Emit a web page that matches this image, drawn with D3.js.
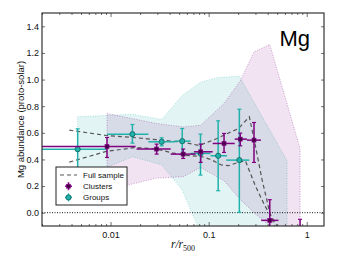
<!DOCTYPE html>
<html>
<head>
<meta charset="utf-8">
<script src="https://cdn.jsdelivr.net/npm/d3@7"></script>
<style>
  body { margin: 0; background: #fff; }
  svg { font-family: "Liberation Sans", Arial, sans-serif; }
</style>
</head>
<body>
<svg id="chart"></svg>
<script>
// cluster profile (purple)
const clusterR   = [0.0092, 0.0295, 0.055, 0.083, 0.1435, 0.21, 0.29, 0.42, 0.855];
const clusterRLo = [0.0012, 0.0184, 0.041, 0.0708, 0.110, 0.1845, 0.246, 0.343, 0.70];
const clusterRHi = [0.018, 0.041, 0.0735, 0.110, 0.1845, 0.246, 0.341, 0.515, 1.0];
const clusterMg  = [0.497, 0.478, 0.44, 0.4575, 0.52, 0.5525, 0.545, -0.0575, -0.2];
const clusterLo  = [0.415, 0.44, 0.4075, 0.378, 0.4525, 0.5025, 0.3775, -0.2, -0.35];
const clusterHi  = [0.565, 0.515, 0.478, 0.515, 0.595, 0.5975, 0.6775, 0.0975, -0.05];
const clusterBandUp = [0.745, 0.67, 0.644, 0.657, 0.82, 0.99, 1.207, 1.263, 0.483];
const clusterBandLo = [0.17, 0.26, 0.27, 0.34, 0.24, 0.10, 0.0, -0.1, -0.6];

// group profile (teal)
const groupR   = [0.00462, 0.0167, 0.0332, 0.0538, 0.0826, 0.125, 0.2056, 0.63];
const groupRLo = [0.0012, 0.0092, 0.0243, 0.0454, 0.0655, 0.1045, 0.151, 0.5];
const groupRHi = [0.0092, 0.0243, 0.0454, 0.0655, 0.1045, 0.154, 0.26, 0.8];
const groupMg  = [0.477, 0.59, 0.5325, 0.5375, 0.445, 0.4275, 0.395, -0.5];
const groupLo  = [0.32, 0.5225, 0.5025, 0.4425, 0.2825, 0.165, 0.0025, -0.9];
const groupHi  = [0.63, 0.6625, 0.5625, 0.6325, 0.59, 0.69, 0.7775, -0.2];
const groupBandUp = [0.72, 0.74, 0.70, 0.88, 0.98, 1.015, 1.025, 0.39];
const groupBandLo = [0.25, 0.42, 0.36, 0.17, -0.15, -0.4, -0.5, -0.5];

// full sample envelope (dashed)
const fullUpR = [0.0038, 0.009, 0.017, 0.033, 0.054, 0.08, 0.12, 0.155, 0.20, 0.26, 0.30, 0.35, 0.42, 0.5];
const fullUp  = [0.62, 0.58, 0.565, 0.545, 0.53, 0.505, 0.555, 0.595, 0.63, 0.72, 0.50, 0.25, 0.0, -0.15];
const fullLoR = [0.0038, 0.009, 0.018, 0.029, 0.054, 0.083, 0.105, 0.135, 0.16, 0.2, 0.237, 0.30, 0.375, 0.55];
const fullLo  = [0.38, 0.46, 0.49, 0.478, 0.433, 0.423, 0.40, 0.358, 0.353, 0.378, 0.39, 0.20, 0.05, -0.15];

const xTicks = [0.01, 0.1, 1];
const xTickLabels = ["0.01", "0.1", "1"];
const yTicks = [0, 0.2, 0.4, 0.6, 0.8, 1.0, 1.2, 1.4];

const width = 341, height = 257;
const margin = { left: 42, right: 17, top: 13, bottom: 31 };

const purple = "#800080", purpleDark = "#4a004a";
const teal = "#20b2aa", tealDark = "#136b66";

const svg = d3.select("#chart").attr("width", width).attr("height", height);

const x = d3.scaleLog().domain([0.002, 1.5]).range([margin.left, width - margin.right]);
const y = d3.scaleLinear().domain([-0.1, 1.5]).range([height - margin.bottom, margin.top]);

svg.append("clipPath").attr("id", "clip")
  .append("rect")
  .attr("x", margin.left).attr("y", margin.top)
  .attr("width", x.range()[1] - x.range()[0])
  .attr("height", y.range()[0] - y.range()[1]);

const plot = svg.append("g").attr("clip-path", "url(#clip)");

// bands
function band(rs, up, lo, color, alpha) {
  const pts = rs.map((r, i) => ({ r, up: up[i], lo: lo[i] }));
  const area = d3.area().x(d => x(d.r)).y0(d => y(d.lo)).y1(d => y(d.up));
  plot.append("path").datum(pts).attr("d", area)
    .attr("fill", color).attr("fill-opacity", alpha)
    .attr("stroke", color).attr("stroke-opacity", 0.45)
    .attr("stroke-width", 0.8).attr("stroke-dasharray", "1,1.5");
}
band(groupR, groupBandUp, groupBandLo, teal, 0.13);
band(clusterR, clusterBandUp, clusterBandLo, purple, 0.11);

// zero line
plot.append("line")
  .attr("x1", x.range()[0]).attr("x2", x.range()[1])
  .attr("y1", y(0)).attr("y2", y(0))
  .attr("stroke", "#000").attr("stroke-width", 0.9).attr("stroke-dasharray", "1,1.5");

// full sample dashed lines
const line = d3.line().x(d => x(d[0])).y(d => y(d[1]));
[[fullUpR, fullUp], [fullLoR, fullLo]].forEach(([rs, vs]) => {
  plot.append("path").datum(rs.map((r, i) => [r, vs[i]]))
    .attr("d", line).attr("fill", "none")
    .attr("stroke", "#555").attr("stroke-width", 1.2).attr("stroke-dasharray", "4,3");
});

// error bars
function errorbars(rs, rlo, rhi, mg, lo, hi, color, mcolor, shape) {
  const g = plot.append("g");
  rs.forEach((r, i) => {
    g.append("line").attr("x1", x(rlo[i])).attr("x2", x(rhi[i]))
      .attr("y1", y(mg[i])).attr("y2", y(mg[i]))
      .attr("stroke", color).attr("stroke-width", 1.5);
    g.append("line").attr("x1", x(r)).attr("x2", x(r))
      .attr("y1", y(lo[i])).attr("y2", y(hi[i]))
      .attr("stroke", color).attr("stroke-width", 1.5);
    [lo[i], hi[i]].forEach(v => {
      g.append("line").attr("x1", x(r) - 2).attr("x2", x(r) + 2)
        .attr("y1", y(v)).attr("y2", y(v))
        .attr("stroke", color).attr("stroke-width", 1.2);
    });
  });
  rs.forEach((r, i) => {
    if (shape === "square") {
      g.append("rect").attr("x", x(r) - 2).attr("y", y(mg[i]) - 2)
        .attr("width", 4).attr("height", 4)
        .attr("fill", mcolor).attr("stroke", color).attr("stroke-width", 0.6);
    } else {
      g.append("circle").attr("cx", x(r)).attr("cy", y(mg[i])).attr("r", 2.6)
        .attr("fill", color).attr("stroke", mcolor).attr("stroke-width", 0.9);
    }
  });
}
errorbars(groupR, groupRLo, groupRHi, groupMg, groupLo, groupHi, teal, tealDark, "circle");
errorbars(clusterR, clusterRLo, clusterRHi, clusterMg, clusterLo, clusterHi, purple, purpleDark, "square");

// axes
const minorX = [];
[0.001, 0.01, 0.1, 1].forEach(d => { for (let k = 2; k <= 9; k++) minorX.push(d * k); });
const minorXIn = minorX.filter(v => v >= 0.002 && v <= 1.5);

svg.append("g").attr("transform", `translate(0,${y.range()[0]})`)
  .call(d3.axisBottom(x).tickValues(xTicks).tickFormat((d, i) => xTickLabels[i]).tickSize(-4).tickPadding(6));
svg.append("g").attr("transform", `translate(0,${y.range()[0]})`)
  .call(d3.axisBottom(x).tickValues(minorXIn).tickFormat("").tickSize(-2));
svg.append("g").attr("transform", `translate(0,${y.range()[1]})`)
  .call(d3.axisTop(x).tickValues(xTicks).tickFormat("").tickSize(-4));
svg.append("g").attr("transform", `translate(0,${y.range()[1]})`)
  .call(d3.axisTop(x).tickValues(minorXIn).tickFormat("").tickSize(-2));
svg.append("g").attr("transform", `translate(${x.range()[0]},0)`)
  .call(d3.axisLeft(y).tickValues(yTicks).tickFormat(d3.format(".1f")).tickSize(-3).tickPadding(3));
svg.append("g").attr("transform", `translate(${x.range()[1]},0)`)
  .call(d3.axisRight(y).tickValues(yTicks).tickFormat("").tickSize(-3));

svg.selectAll(".domain").remove();
svg.selectAll(".tick line").attr("stroke", "#333").attr("stroke-width", 0.7);
svg.selectAll(".tick text").attr("font-size", 9).attr("fill", "#111")
  .attr("font-family", "Liberation Sans, Arial, sans-serif");

svg.append("rect")
  .attr("x", x.range()[0]).attr("y", y.range()[1])
  .attr("width", x.range()[1] - x.range()[0]).attr("height", y.range()[0] - y.range()[1])
  .attr("fill", "none").attr("stroke", "#222").attr("stroke-width", 1.1);

// labels
svg.append("text")
  .attr("transform", `translate(24,${(y.range()[0] + y.range()[1]) / 2}) rotate(-90)`)
  .attr("text-anchor", "middle").attr("font-size", 9.5).attr("fill", "#111")
  .text("Mg abundance (proto-solar)");

const xl = svg.append("text")
  .attr("x", 183).attr("y", 248).attr("text-anchor", "middle")
  .attr("font-family", "Liberation Serif, DejaVu Serif, serif")
  .attr("font-style", "italic").attr("font-size", 11.5).attr("fill", "#111");
xl.append("tspan").text("r/r");
xl.append("tspan").attr("dy", 3).attr("font-size", 8).attr("font-style", "normal").text("500");

svg.append("text")
  .attr("x", 310).attr("y", 46).attr("text-anchor", "end")
  .attr("font-size", 22).attr("fill", "#000").text("Mg");

// legend
const lg = svg.append("g");
lg.append("rect").attr("x", 56).attr("y", 167).attr("width", 71).attr("height", 38)
  .attr("fill", "#fff").attr("stroke", "#222").attr("stroke-width", 1);
const rows = [
  { label: "Full sample", kind: "dash" },
  { label: "Clusters", kind: "square" },
  { label: "Groups", kind: "circle" }
];
rows.forEach((d, i) => {
  const cy = 175 + i * 11.2;
  if (d.kind === "dash") {
    lg.append("line").attr("x1", 60).attr("x2", 77).attr("y1", cy).attr("y2", cy)
      .attr("stroke", "#555").attr("stroke-width", 1.2).attr("stroke-dasharray", "4,3");
  } else {
    const c = d.kind === "square" ? purple : teal;
    const mc = d.kind === "square" ? purpleDark : tealDark;
    lg.append("line").attr("x1", 65).attr("x2", 72).attr("y1", cy).attr("y2", cy)
      .attr("stroke", c).attr("stroke-width", 1.5);
    lg.append("line").attr("x1", 68.5).attr("x2", 68.5).attr("y1", cy - 4).attr("y2", cy + 4)
      .attr("stroke", c).attr("stroke-width", 1.5);
    if (d.kind === "square") {
      lg.append("rect").attr("x", 66.5).attr("y", cy - 2).attr("width", 4).attr("height", 4)
        .attr("fill", mc).attr("stroke", c).attr("stroke-width", 0.6);
    } else {
      lg.append("circle").attr("cx", 68.5).attr("cy", cy).attr("r", 2.6)
        .attr("fill", c).attr("stroke", mc).attr("stroke-width", 0.9);
    }
  }
  lg.append("text").attr("x", 83).attr("y", cy + 3).attr("font-size", 8).attr("fill", "#111")
    .text(d.label);
});
</script>
</body>
</html>
